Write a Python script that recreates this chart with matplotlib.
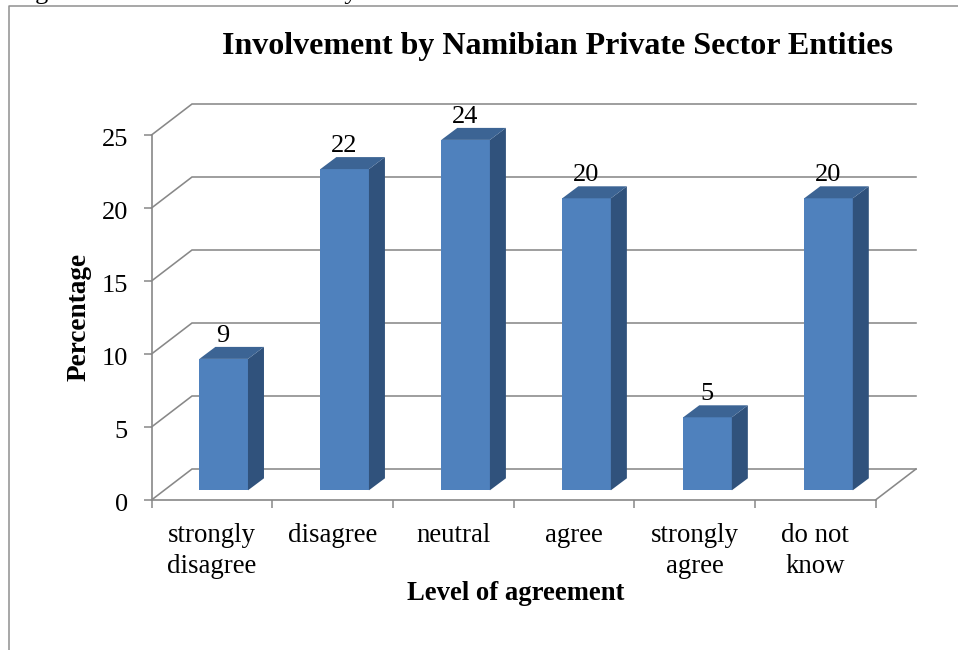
import matplotlib
matplotlib.use("Agg")
import matplotlib.pyplot as plt
from matplotlib.patches import Polygon, Rectangle
from matplotlib.transforms import ScaledTranslation

W, H = 958, 650
plt.rcParams['font.family'] = ['Liberation Serif', 'DejaVu Serif']

categories = ["strongly\ndisagree", "disagree", "neutral", "agree", "strongly\nagree", "do not\nknow"]
values = [9, 22, 24, 20, 5, 20]
y_ticks = [0, 5, 10, 15, 20, 25]
title = "Involvement by Namibian Private Sector Entities"
x_label = "Level of agreement"
y_label = "Percentage"

GRID = "#888888"
FRONT, SIDE, TOP = "#4f81bd", "#30527c", "#3c6494"


def px_axes(x0, x1, ytop, ybot):
    return fig.add_axes([x0 / W, 1 - ybot / H, (x1 - x0) / W, (ybot - ytop) / H])


fig = plt.figure(figsize=(W / 100, H / 100), dpi=100, facecolor="white")

# outer chart frame, cropped by the image edge
fig.add_artist(plt.Line2D([9.2 / W, 9.2 / W, 1], [0, 1 - 6.2 / H, 1 - 6.2 / H],
                          color="#909090", lw=1.1, transform=fig.transFigure))

# caption of the source page, cut off by the top edge: only its descenders show
fig.text(13 / W, 1 + 1 / H, "Figure", ha="left", va="baseline", fontsize=19, clip_on=False)
fig.text(358 / W, 1 + 1 / H, "by", ha="right", va="baseline", fontsize=19, clip_on=False)

# front plane axes: carries scales, ticks and labels
ax = px_axes(151.5, 875.5, 135, 500)
ax.set_xlim(0, len(categories))
ax.set_ylim(0, 25)
ax.patch.set_alpha(0)
for s in ("top", "right"):
    ax.spines[s].set_visible(False)
for s in ("left", "bottom"):
    ax.spines[s].set_color(GRID)
    ax.spines[s].set_linewidth(1.2)
ax.set_yticks(y_ticks)
ax.set_xticks(range(len(categories) + 1))
ax.set_xticklabels([])
ax.set_xticks([i + 0.5 for i in range(len(categories))], categories, minor=True)
ax.tick_params(axis="both", which="major", color=GRID, width=1.1, length=6, labelsize=19, pad=11)
ax.tick_params(axis="x", which="minor", length=0, labelsize=19.4, pad=16.5)
for lab in ax.get_xticklabels(minor=True):
    lab.set_linespacing(1.3)
shift_down = ScaledTranslation(0, -2.5 / 100, fig.dpi_scale_trans)
for lab in ax.get_yticklabels():
    lab.set_transform(lab.get_transform() + shift_down)

# depth of the 3-D box, in pixels converted to data units
ux = len(categories) / 724
uy = 25 / 365
dx, dy = 40.5 * ux, 31 * uy
n = len(categories)
for v in y_ticks:
    ax.plot([0, dx, n + dx], [v, v + dy, v + dy], color=GRID, lw=1.15, clip_on=False, zorder=1,
            solid_joinstyle="miter")
ax.plot([n, n + dx], [0, dy], color=GRID, lw=1.15, clip_on=False, zorder=1)

# bars, on an overlay sharing the value scale but shifted onto the floor
bx = px_axes(163.2, 889.0, 125.3, 490.3)
bx.set_xlim(0, n)
bx.set_ylim(0, 25)
bx.axis("off")
bw = 48.6 / 121
sx, sy = 16 * n / 725.8, 12 * 25 / 365
for i, v in enumerate(values):
    l, r = i + 0.5 - bw / 2, i + 0.5 + bw / 2
    bx.add_patch(Rectangle((l, 0), bw, v, fc=FRONT, ec="none", zorder=3, clip_on=False))
    bx.add_patch(Polygon([(r, 0), (r + sx, sy), (r + sx, v + sy), (r, v)], fc=SIDE, ec="none", zorder=3, clip_on=False))
    bx.add_patch(Polygon([(l, v), (l + sx, v + sy), (r + sx, v + sy), (r, v)], fc=TOP, ec="none", zorder=3, clip_on=False))
    bx.annotate(str(v), (i + 0.5, v), xytext=(-0.5, 12.2), textcoords="offset points", ha="center",
                va="baseline", fontsize=19, color="black", zorder=5, annotation_clip=False)

fig.text(557 / W, 1 - 54 / H, title, ha="center", va="baseline", fontsize=23, fontweight="bold")
fig.text(515.5 / W, 1 - 600.5 / H, x_label, ha="center", va="baseline", fontsize=19.2, fontweight="bold")
fig.text(79.5 / W, 1 - 316.5 / H, y_label, rotation=90, ha="center", va="center", fontsize=19.6, fontweight="bold")

fig.savefig("out.png", dpi=100, facecolor="white")
